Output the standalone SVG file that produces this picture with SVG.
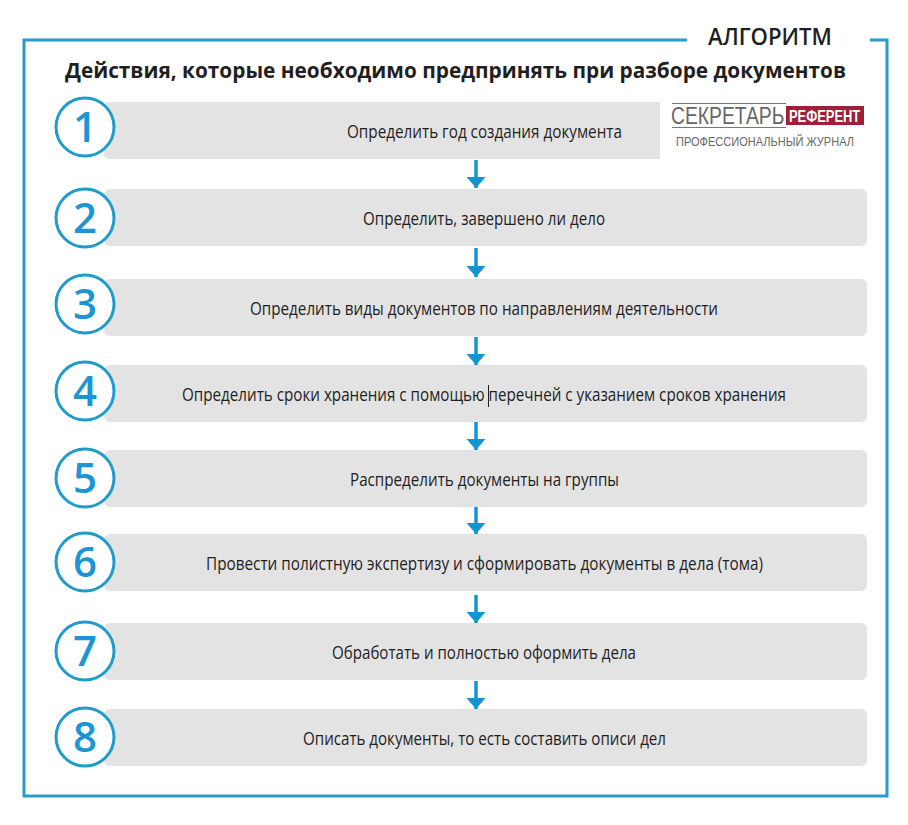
<svg xmlns="http://www.w3.org/2000/svg" width="908" height="825" viewBox="0 0 908 825">
<style>
.t{font:18px "Open Sans","Noto Sans",sans-serif;fill:#1f1f1f}
.n{font:600 42px "Open Sans","Noto Sans",sans-serif;fill:#1c96d2;text-anchor:middle}
.b{fill:#e3e3e3}
.c{fill:#fff;stroke:#1f9ccb;stroke-width:3}
.a{stroke:#1296d3;stroke-width:3.5;fill:none;marker-end:url(#h)}
</style>
<defs><marker id="h" markerUnits="userSpaceOnUse" markerWidth="12" markerHeight="20" refX="11" refY="9.500" orient="auto"><path d="M0 0L11 9.500L0 19Z" fill="#1296d3"/></marker></defs>
<rect width="908" height="825" fill="#fff"/>
<path d="M687 40H24V796H887V40H870" fill="none" stroke="#2a9cc5" stroke-width="3"/>
<text x="708" y="45" font-family="Open Sans,sans-serif" font-size="24" font-weight="600" fill="#1f1f1f" textLength="124" lengthAdjust="spacingAndGlyphs">АЛГОРИТМ</text>
<text x="65" y="78" font-family="Open Sans,sans-serif" font-size="21.500" font-weight="700" fill="#1f1f1f" textLength="781" lengthAdjust="spacingAndGlyphs">Действия, которые необходимо предпринять при разборе документов</text>
<g id="connectors">
<path class="a" d="M476 160V188"/><path class="a" d="M476 248V277"/><path class="a" d="M476 337V365"/><path class="a" d="M476 422V450"/><path class="a" d="M476 506V534"/><path class="a" d="M476 595V623"/><path class="a" d="M476 681V709"/>
</g>
<g id="node1"><path class="b" d="M660 102V159H110Q104 159 104 153V108Q104 102 110 102Z"/><circle class="c" cx="85" cy="127" r="29"/><text class="n" x="85" y="142">1</text><text class="t" x="347" y="138" textLength="275" lengthAdjust="spacingAndGlyphs">Определить год создания документа</text></g>
<g id="node2"><rect class="b" x="104" y="189" width="763" height="57" rx="6"/><circle class="c" cx="85" cy="218" r="29"/><text class="n" x="85" y="233">2</text><text class="t" x="363" y="225" textLength="242" lengthAdjust="spacingAndGlyphs">Определить, завершено ли дело</text></g>
<g id="node3"><rect class="b" x="104" y="279" width="763" height="57" rx="6"/><circle class="c" cx="85" cy="304" r="29"/><text class="n" x="85" y="319">3</text><text class="t" x="250" y="315" textLength="468" lengthAdjust="spacingAndGlyphs">Определить виды документов по направлениям деятельности</text></g>
<g id="node4"><rect class="b" x="104" y="365" width="763" height="57" rx="6"/><circle class="c" cx="85" cy="391" r="29"/><text class="n" x="85" y="406">4</text><text class="t" x="182" y="401" textLength="604" lengthAdjust="spacingAndGlyphs">Определить сроки хранения с помощью перечней с указанием сроков хранения</text><path d="M488.500 385V407" stroke="#1f1f1f" stroke-width="1"/></g>
<g id="node5"><rect class="b" x="104" y="450" width="763" height="57" rx="6"/><circle class="c" cx="85" cy="478" r="29"/><text class="n" x="85" y="493">5</text><text class="t" x="350" y="486" textLength="269" lengthAdjust="spacingAndGlyphs">Распределить документы на группы</text></g>
<g id="node6"><rect class="b" x="104" y="534" width="763" height="57" rx="6"/><circle class="c" cx="85" cy="562" r="29"/><text class="n" x="85" y="577">6</text><text class="t" x="206" y="570" textLength="557" lengthAdjust="spacingAndGlyphs">Провести полистную экспертизу и сформировать документы в дела (тома)</text></g>
<g id="node7"><rect class="b" x="104" y="623" width="763" height="57" rx="6"/><circle class="c" cx="85" cy="651" r="29"/><text class="n" x="85" y="666">7</text><text class="t" x="332" y="659" textLength="304" lengthAdjust="spacingAndGlyphs">Обработать и полностью оформить дела</text></g>
<g id="node8"><rect class="b" x="104" y="709" width="763" height="57" rx="6"/><circle class="c" cx="85" cy="737" r="29"/><text class="n" x="85" y="752">8</text><text class="t" x="303" y="745" textLength="363" lengthAdjust="spacingAndGlyphs">Описать документы, то есть составить описи дел</text></g>
<g id="logo">
<path d="M672 103.500H786M672 127.500H786" stroke="#777" stroke-width="1"/>
<text transform="translate(671 124) scale(.84 1)" font-family="Liberation Sans,sans-serif" font-size="23" fill="#666">СЕКРЕТАРЬ</text>
<rect x="786" y="106" width="78" height="19" fill="#a11f36"/>
<text transform="translate(789 121.500) scale(.76 1)" font-family="Liberation Sans,sans-serif" font-size="17" font-weight="700" fill="#fff">РЕФЕРЕНТ</text>
<text x="676" y="146" font-family="Liberation Sans,sans-serif" font-size="12.500" fill="#666" textLength="178" lengthAdjust="spacingAndGlyphs">ПРОФЕССИОНАЛЬНЫЙ ЖУРНАЛ</text>
</g>
</svg>
